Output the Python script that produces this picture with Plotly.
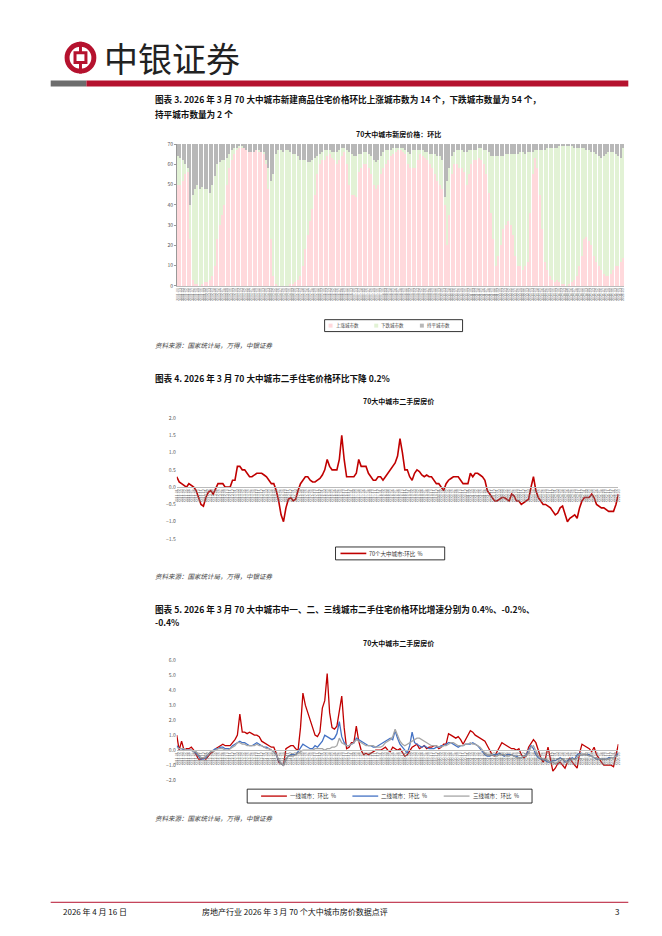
import plotly.graph_objects as go

W, H = 662, 936
CJK = "Noto Sans CJK SC"

# months 2011-01 .. 2026-03
months = [f"{y}-{m:02d}" for y in range(2011, 2027) for m in range(1, 13)][:183]

# chart 1: number of cities (rising / flat), total 70
rise = [50, 50, 52, 55, 56, 23, 3, 1, 1, 0, 1, 2,
        2, 3, 5, 10, 23, 30, 35, 40, 50, 58, 62, 65,
        67, 68, 68, 68, 67, 66, 66, 66, 67, 66, 66, 65,
        60, 48, 23, 5, 1, 0, 0, 0, 0, 0, 1, 1,
        2, 3, 5, 10, 18, 25, 32, 38, 45, 55, 60, 62,
        62, 64, 65, 63, 62, 60, 62, 64, 66, 60, 50, 45,
        45, 44, 56, 58, 60, 60, 58, 55, 50, 48, 50, 55,
        58, 60, 62, 64, 65, 66, 67, 67, 66, 65, 60, 58,
        58, 58, 62, 65, 64, 63, 62, 60, 58, 55, 52, 50,
        48, 40, 20, 35, 55, 60, 60, 58, 58, 56, 50, 55,
        60, 62, 62, 63, 62, 60, 55, 46, 36, 23, 10, 15,
        20, 28, 30, 32, 30, 25, 15, 10, 10, 8, 10, 12,
        36, 55, 63, 58, 45, 28, 12, 8, 5, 3, 2, 3,
        2, 1, 1, 0, 1, 2, 3, 5, 10, 15, 23, 24,
        22, 20, 15, 12, 10, 8, 6, 5, 5, 6, 8, 10,
        10, 12, 14]
flat = [6, 7, 8, 10, 12, 30, 25, 22, 20, 22, 21, 22,
        22, 24, 20, 16, 10, 9, 8, 8, 7, 5, 3, 2,
        2, 1, 1, 2, 3, 4, 4, 4, 3, 3, 4, 4,
        8, 12, 18, 15, 5, 3, 3, 4, 3, 3, 4, 5,
        5, 6, 8, 8, 8, 9, 9, 8, 7, 6, 5, 4,
        3, 3, 3, 4, 4, 4, 3, 2, 2, 3, 4, 5,
        6, 6, 5, 5, 4, 4, 5, 6, 8, 9, 8, 6,
        4, 3, 3, 3, 2, 2, 2, 2, 2, 3, 4, 5,
        3, 3, 3, 3, 3, 4, 4, 5, 5, 5, 6, 6,
        8, 26, 18, 12, 6, 4, 3, 3, 3, 4, 4, 3,
        3, 3, 3, 2, 2, 3, 3, 4, 6, 6, 6, 6,
        6, 6, 5, 5, 5, 5, 5, 5, 4, 4, 5, 4,
        4, 4, 3, 3, 3, 3, 3, 2, 2, 2, 2, 2,
        1, 1, 1, 1, 1, 1, 2, 2, 2, 2, 2, 3,
        3, 4, 4, 5, 6, 7, 6, 5, 4, 4, 4, 5,
        6, 7, 2]
total_cities = 70
fall = [total_cities - r - f for r, f in zip(rise, flat)]

# chart 2: 70 cities second-hand MoM %
sec70 = [0.3, 0.15, 0.1, 0.05, 0.0, 0.1, 0.05, 0.0, -0.1, -0.3, -0.5, -0.55,
         -0.3, -0.15, -0.1, -0.2, -0.05, 0.1, 0.1, 0.1, 0.0, 0.0, 0.0, 0.2,
         0.2, 0.6, 0.6, 0.5, 0.5, 0.4, 0.3, 0.3, 0.35, 0.4, 0.4, 0.4,
         0.35, 0.3, 0.2, 0.1, 0.1, -0.1, -0.4, -0.8, -1.0, -0.6, -0.35, -0.3,
         -0.4, -0.35, -0.1, 0.1, 0.2, 0.3, 0.3, 0.2, 0.15, 0.15, 0.2, 0.25,
         0.35, 0.5, 0.8, 0.6, 0.5, 0.5, 0.5, 0.8, 1.5, 0.8, 0.3, 0.3,
         0.3, 0.3, 0.4, 0.8, 0.6, 0.6, 0.6, 0.4, 0.3, 0.2, 0.2, 0.3,
         0.3, 0.2, 0.3, 0.4, 0.5, 0.6, 0.7, 0.9, 1.4, 1.0, 0.5, 0.5,
         0.3, 0.2, 0.4, 0.5, 0.45, 0.35, 0.3, 0.35, 0.3, 0.3, 0.2, 0.1,
         0.1, 0.0, -0.1, 0.1, 0.2, 0.25, 0.3, 0.3, 0.3, 0.2, 0.1, 0.1,
         0.1, 0.4, 0.3, 0.4, 0.4, 0.35, 0.3, 0.2, -0.1, -0.2, -0.3, -0.4,
         -0.4, -0.35, -0.3, -0.3, -0.35, -0.4, -0.2, -0.25, -0.4, -0.4, -0.5, -0.45,
         -0.4, -0.35, 0.0, 0.3, -0.1, -0.3, -0.4, -0.5, -0.5, -0.55, -0.6, -0.7,
         -0.8, -0.75, -0.6, -0.55, -0.8, -1.0, -0.9, -0.85, -0.8, -0.9, -0.6, -0.4,
         -0.3, -0.3, -0.3, -0.2, -0.3, -0.5, -0.55, -0.6, -0.6, -0.65, -0.7, -0.7,
         -0.7, -0.5, -0.2]

# chart 3: tier 1/2/3 cities second-hand MoM %
tier1 = [1.0, 0.0, 0.6, 0.0, 0.1, 0.1, 0.2, 0.0, -0.3, -0.6, -0.6, -0.5,
         -0.6, -0.4, -0.2, -0.1, 0.1, 0.2, 0.3, 0.4, 0.3, 0.3, 0.3, 0.5,
         0.7, 1.0, 2.4, 1.2, 1.2, 1.1, 1.2, 1.1, 1.0, 1.0, 0.9, 0.6,
         0.5, 0.4, 0.3, 0.2, 0.2, -0.2, -0.8, -0.9, -1.0, 0.1, 0.2, 0.3,
         0.3, 0.1, 0.0, 1.5, 3.8, 3.0, 2.5, 2.0, 1.5, 1.0, 0.9, 1.2,
         2.8, 3.3, 5.1, 2.5, 1.5, 1.4, 1.6, 2.5, 3.6, 1.5, 0.1, 0.2,
         0.5, 0.5, 1.6, 0.6, 0.0, -0.3, -0.2, -0.3, -0.2, -0.1, 0.0, 0.0,
         0.0, 0.1, 0.2, 0.0, -0.1, 0.2, 0.1, 0.0, 0.1, -0.2, -0.4, -0.3,
         0.0, 0.2, 0.3, 0.4, 0.1, 0.2, 0.3, 0.1, 0.2, 0.2, 0.3, 0.3,
         0.1, 0.2, 0.4, 0.4, 1.1, 1.0, 0.9, 0.8, 0.9, 0.7, 0.4, 0.7,
         1.0, 1.3, 1.2, 1.0, 0.9, 0.8, 0.7, 0.6, 0.3, 0.0, -0.3, -0.4,
         -0.1, 0.2, 0.5, 0.4, 0.3, 0.2, 0.1, 0.1, 0.0, 0.1, -0.3, -0.5,
         -0.4, 0.2, 0.5, 0.7, 0.5, 0.0, -0.5, -0.8, -0.5, 0.2, -0.6, -1.4,
         -1.2, -0.9, -0.8, -1.0, -1.2, -0.8, -0.5, -0.8, -1.0, -1.2, -0.2, 0.4,
         0.3, 0.2, 0.1, -0.1, 0.2, -0.3, -0.6, -0.8, -1.0, -1.0, -1.0, -1.0,
         -1.1, -0.4, 0.4]
tier2 = [0.3, 0.1, 0.1, 0.0, 0.0, 0.0, 0.0, -0.1, -0.2, -0.4, -0.6, -0.6,
         -0.5, -0.3, -0.1, 0.0, 0.1, 0.1, 0.2, 0.2, 0.1, 0.1, 0.1, 0.3,
         0.4, 0.5, 0.6, 0.5, 0.5, 0.4, 0.3, 0.3, 0.4, 0.5, 0.4, 0.3,
         0.2, 0.2, 0.1, 0.0, -0.1, -0.3, -0.7, -0.9, -1.0, -0.6, -0.4, -0.3,
         -0.3, -0.3, -0.1, 0.2, 0.4, 0.3, 0.2, 0.1, 0.1, 0.3, 0.2, 0.4,
         0.6, 1.0, 0.9, 0.8, 0.7, 0.8, 1.1, 1.9, 0.9, 0.5, 0.3, 0.3,
         0.4, 0.5, 0.8, 0.7, 0.6, 0.5, 0.4, 0.3, 0.3, 0.2, 0.2, 0.3,
         0.4, 0.5, 0.6, 0.7, 0.8, 0.7, 1.3, 0.8, 0.4, 0.2, 0.0, -0.2,
         0.3, 1.2, 0.5, 0.4, 0.3, 0.2, 0.3, 0.2, 0.1, 0.1, 0.1, 0.2,
         0.2, 0.3, 0.3, 0.4, 0.5, 0.5, 0.4, 0.3, 0.2, 0.3, 0.3, 0.4,
         0.4, 0.4, 0.5, 0.4, 0.3, 0.1, -0.1, -0.3, -0.4, -0.4, -0.3, -0.3,
         -0.3, -0.2, -0.3, -0.4, -0.3, -0.3, -0.3, -0.4, -0.4, -0.5, -0.5, -0.4,
         -0.3, 0.0, 0.3, 0.1, -0.3, -0.5, -0.6, -0.6, -0.7, -0.8, -0.8, -0.7,
         -0.7, -0.6, -0.5, -0.6, -0.8, -0.7, -0.6, -0.5, -0.6, -0.3, -0.2, -0.3,
         -0.3, -0.3, -0.3, -0.4, -0.5, -0.6, -0.6, -0.6, -0.6, -0.6, -0.5, -0.5,
         -0.5, -0.4, -0.2]
tier3 = [0.2, 0.1, 0.1, 0.1, 0.0, 0.0, 0.0, -0.1, -0.1, -0.3, -0.5, -0.5,
         -0.4, -0.3, -0.1, -0.1, 0.0, 0.1, 0.1, 0.1, 0.0, 0.0, 0.1, 0.2,
         0.3, 0.5, 0.5, 0.4, 0.4, 0.3, 0.3, 0.3, 0.3, 0.4, 0.3, 0.3,
         0.2, 0.1, 0.1, 0.0, -0.1, -0.3, -0.6, -0.9, -1.0, -0.6, -0.4, -0.4,
         -0.4, -0.3, -0.2, -0.1, 0.0, 0.0, 0.0, 0.0, 0.0, 0.1, 0.1, 0.1,
         0.1, 0.0, 0.1, 0.1, 0.2, 0.2, 0.3, 0.8, 0.5, 0.4, 0.3, 0.3,
         0.4, 0.5, 0.7, 0.6, 0.5, 0.4, 0.3, 0.3, 0.3, 0.3, 0.2, 0.2,
         0.2, 0.3, 0.5, 0.6, 0.7, 0.9, 1.4, 1.0, 0.6, 0.4, 0.3, 0.4,
         0.5, 0.6, 0.7, 0.8, 0.8, 0.7, 0.6, 0.5, 0.4, 0.3, 0.3, 0.3,
         0.2, 0.2, 0.3, 0.3, 0.4, 0.5, 0.5, 0.4, 0.3, 0.3, 0.3, 0.4,
         0.4, 0.5, 0.4, 0.4, 0.3, 0.2, 0.0, -0.2, -0.3, -0.3, -0.3, -0.4,
         -0.4, -0.3, -0.3, -0.3, -0.4, -0.4, -0.3, -0.4, -0.5, -0.5, -0.5, -0.4,
         -0.4, -0.2, 0.2, 0.3, -0.1, -0.4, -0.5, -0.6, -0.6, -0.7, -0.8, -0.8,
         -0.9, -0.8, -0.7, -0.6, -0.7, -0.8, -0.7, -0.6, -0.6, -0.5, -0.3, -0.3,
         -0.3, -0.3, -0.4, -0.4, -0.5, -0.5, -0.6, -0.6, -0.6, -0.6, -0.6, -0.5,
         -0.5, -0.4, -0.4]


def px(x):
    return x / W


def py(y):
    return 1 - y / H


RED = "#c00000"
bar_series = [("上涨城市数", rise, "#ffd9dc"), ("下跌城市数", fall, "#e2f2d5"),
              ("持平城市数", flat, "#b8b8b8")]
tier_series = [("一线城市：环比  %", tier1, RED), ("二线城市：环比  %", tier2, "#4472c4"),
               ("三线城市：环比  %", tier3, "#a6a6a6")]

fig = go.Figure()
for name, vals, col in bar_series:
    fig.add_trace(go.Bar(x=months, y=vals, name=name, marker=dict(color=col, line_width=0),
                         xaxis="x", yaxis="y"))
fig.add_trace(go.Scatter(x=months, y=sec70, mode="lines", name="70个大中城市:环比  %",
                         line=dict(color=RED, width=1.6), xaxis="x2", yaxis="y2"))
for name, vals, col in tier_series:
    fig.add_trace(go.Scatter(x=months, y=vals, mode="lines", name=name,
                             line=dict(color=col, width=1.3), xaxis="x3", yaxis="y3"))

tickf = dict(size=3.5, color="#777")
yf = dict(size=5, color="#555")
xcommon = dict(type="category", tickangle=-90, tickfont=tickf, showgrid=False, ticks="",
               tickmode="array", tickvals=months, ticktext=months,
               showline=True, linecolor="#bbb", linewidth=0.5)

c2_lo, c2_hi, c2_top, c2_bot = -1.5, 2.0, 409, 531
c3_lo, c3_hi, c3_top, c3_bot = -2.0, 6.0, 653, 774
z2 = c2_top + (c2_hi - 0) / (c2_hi - c2_lo) * (c2_bot - c2_top)
z3 = c3_top + (c3_hi - 0) / (c3_hi - c3_lo) * (c3_bot - c3_top)

fig.update_layout(
    width=W, height=H, margin=dict(l=0, r=0, t=0, b=0), showlegend=False,
    paper_bgcolor="white", plot_bgcolor="white", barmode="stack", bargap=0.35,
    font=dict(family=CJK, color="#222"),
    xaxis=dict(xcommon, domain=[px(167), px(618)], anchor="y"),
    yaxis=dict(domain=[py(276), py(133)], range=[0, 70], dtick=10, tickfont=yf,
               showgrid=False, showline=True, linecolor="#999", linewidth=0.5, ticks="outside",
               ticklen=2, tickcolor="#999"),
    xaxis2=dict(xcommon, domain=[px(167), px(612)], anchor="free", position=py(z2)),
    yaxis2=dict(domain=[py(c2_bot), py(c2_top)], range=[c2_lo, c2_hi], dtick=0.5, tickformat=".1f",
                tickfont=yf, showgrid=False, zeroline=False, anchor="x2"),
    xaxis3=dict(xcommon, domain=[px(167), px(612)], anchor="free", position=py(z3)),
    yaxis3=dict(domain=[py(c3_bot), py(c3_top)], range=[c3_lo, c3_hi], dtick=1, tickformat=".1f",
                tickfont=yf, showgrid=False, zeroline=False, anchor="x3"),
)

P = dict(xref="paper", yref="paper")
shapes = [
    dict(P, type="rect", x0=px(40), x1=px(76), y0=py(75), y1=py(69), fillcolor="#6d6d6d", line_width=0),
    dict(P, type="rect", x0=px(76), x1=px(622), y0=py(75), y1=py(69), fillcolor="#b5122e", line_width=0),
    dict(P, type="circle", x0=px(54), x1=px(86), y0=py(62), y1=py(30), fillcolor="#b5122e", line_width=0),
    dict(P, type="circle", x0=px(59), x1=px(81), y0=py(57), y1=py(35), fillcolor="white", line_width=0),
    dict(P, type="rect", x0=px(68.5), x1=px(71.5), y0=py(62), y1=py(30), fillcolor="#b5122e", line_width=0),
    dict(P, type="rect", x0=px(64.5), x1=px(75.5), y0=py(51), y1=py(41), fillcolor="white",
         line=dict(color="#b5122e", width=3)),
    dict(P, type="line", x0=px(40), x1=px(622), y0=py(897), y1=py(897), line=dict(color="#b5122e", width=1)),
    # legend boxes
    dict(P, type="rect", x0=px(316), x1=px(455), y0=py(322), y1=py(310), line=dict(color="black", width=0.8)),
    dict(P, type="rect", x0=px(327), x1=px(437), y0=py(552), y1=py(539), line=dict(color="black", width=0.8)),
    dict(P, type="rect", x0=px(238), x1=px(525), y0=py(797), y1=py(783), line=dict(color="black", width=0.8)),
]


def txt(x, y, s, size, bold=False, anchor="left", color="#111", italic=False):
    if bold:
        s = f"<b>{s}</b>"
    if italic:
        s = f"<i>{s}</i>"
    fig.add_annotation(x=px(x), y=py(y), xref="paper", yref="paper", text=s, showarrow=False,
                       xanchor=anchor, yanchor="middle", font=dict(size=size, color=color, family=CJK))


# legend entries
for k, (name, _, col) in enumerate(bar_series):
    lx = 320 + k * 46
    shapes.append(dict(P, type="rect", x0=px(lx), x1=px(lx + 4), y0=py(318), y1=py(314),
                       fillcolor=col, line_width=0))
    txt(lx + 5, 316, name, 4.5, color="#444")
shapes.append(dict(P, type="line", x0=px(332), x1=px(358), y0=py(545.5), y1=py(545.5),
                   line=dict(color=RED, width=1.6)))
txt(359, 546, "70个大中城市:环比  %", 5.5, color="#333")
for k, (name, _, col) in enumerate(tier_series):
    lx = 252 + k * 92
    shapes.append(dict(P, type="line", x0=px(lx), x1=px(lx + 26), y0=py(790), y1=py(790),
                       line=dict(color=col, width=1.3)))
    txt(lx + 27, 790, name, 5.5, color="#333")
fig.update_layout(shapes=shapes)

txt(92, 46, "中银证券", 34, color="#222")
txt(143, 88, "图表 3. 2026 年 3 月 70 大中城市新建商品住宅价格环比上涨城市数为 14 个，下跌城市数量为 54 个，", 8.6, True)
txt(143, 103, "持平城市数量为 2 个", 8.6, True)
txt(390, 123, "70大中城市新房价格：环比", 7, True, "center")
txt(143, 336, "资料来源：国家统计局，万得，中银证券", 6.5, italic=True, color="#444")
txt(143, 369, "图表 4. 2026 年 3 月 70 大中城市二手住宅价格环比下降 0.2%", 8.6, True)
txt(390, 392, "70大中城市二手房房价", 7, True, "center")
txt(143, 568, "资料来源：国家统计局，万得，中银证券", 6.5, italic=True, color="#444")
txt(143, 601, "图表 5. 2026 年 3 月 70 大中城市中一、二、三线城市二手住宅价格环比增速分别为 0.4%、-0.2%、", 8.6, True)
txt(143, 615, "-0.4%", 8.6, True)
txt(390, 636, "70大中城市二手房房价", 7, True, "center")
txt(143, 812, "资料来源：国家统计局，万得，中银证券", 6.5, italic=True, color="#444")
txt(50, 906, "2026 年 4 月 16 日", 8)
txt(190, 906, "房地产行业 2026 年 3 月 70 个大中城市房价数据点评", 8)
txt(615, 906, "3", 8, anchor="right")

fig.write_html("out.html")
